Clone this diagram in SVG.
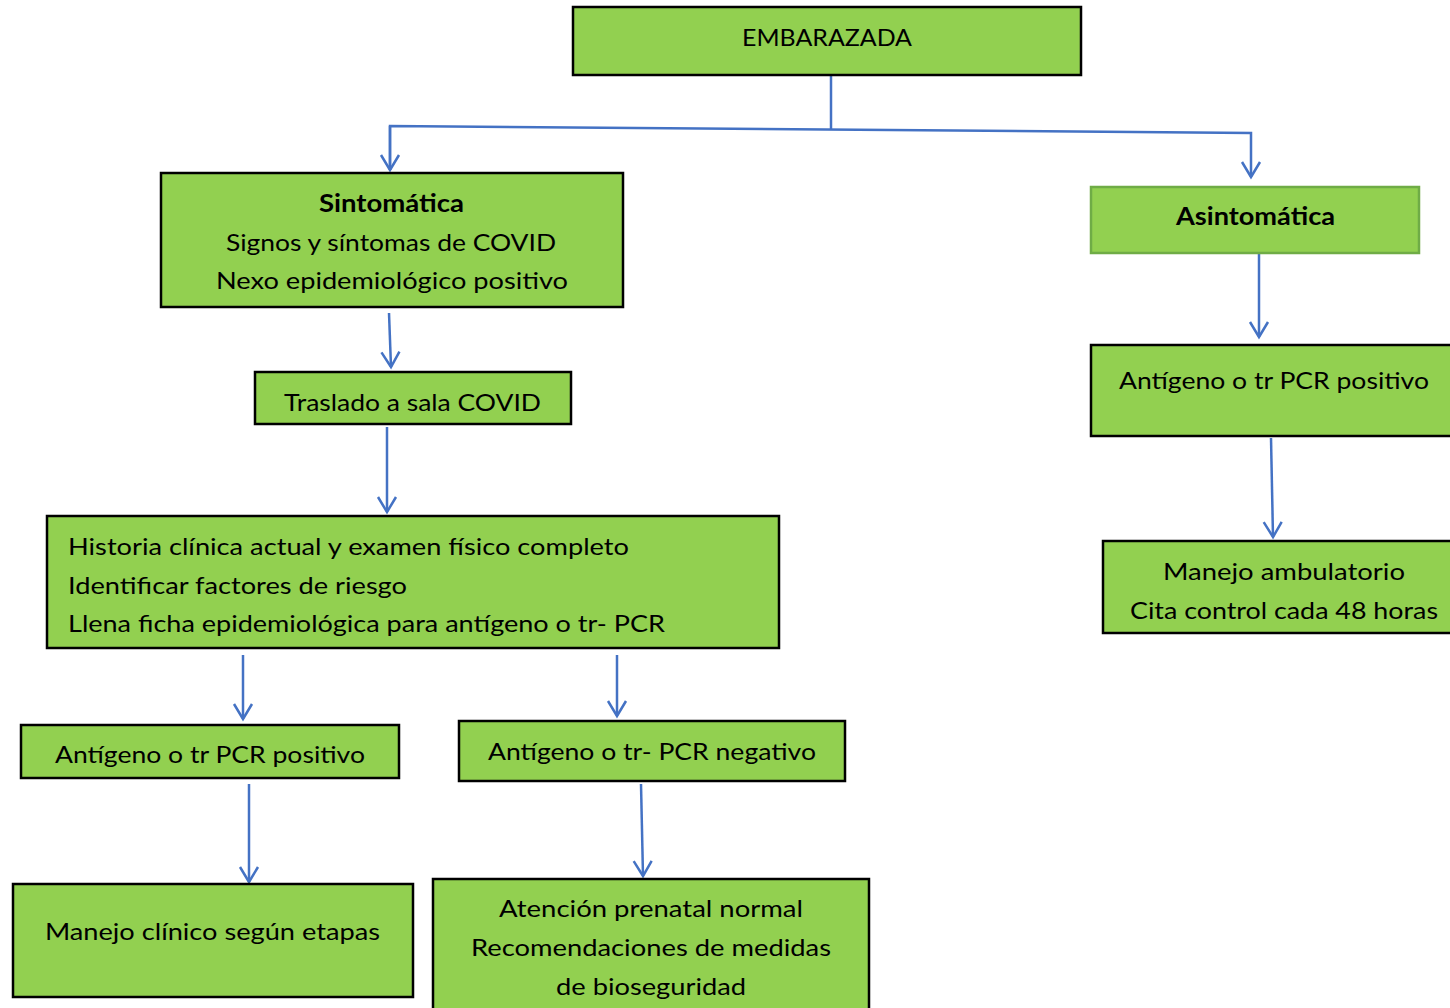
<svg xmlns="http://www.w3.org/2000/svg" width="1450" height="1008" viewBox="0 0 1450 1008">
<style>
.box{fill:#92D050;stroke:#000;stroke-width:2.5}
.gbox{fill:#92D050;stroke:#6FAC46;stroke-width:2.5}
.t{font-family:Lato,"Open Sans","Liberation Sans",sans-serif;font-size:24px;fill:#000}
.c{text-anchor:middle}
.b{font-weight:bold}
.conn{fill:none;stroke:#4472C4;stroke-width:2.5}
</style>
<defs>
<marker id="ah" markerUnits="userSpaceOnUse" markerWidth="40" markerHeight="40" refX="20" refY="20" orient="auto" viewBox="0 0 40 40">
<path d="M5,11 L20,20 L5,29" fill="none" stroke="#4472C4" stroke-width="2.5"/>
</marker>
</defs>
<rect width="1450" height="1008" fill="#fff"/>
<g id="connectors">
<path class="conn" d="M831,75 L831,129"/>
<path class="conn" d="M390,170 L390,126 L1251,133 L1251,177" marker-end="url(#ah)"/>
<path class="conn" d="M390,126 L390,170" marker-end="url(#ah)"/>
<path class="conn" d="M389,313 L391,367" marker-end="url(#ah)"/>
<path class="conn" d="M387,427 L387,512" marker-end="url(#ah)"/>
<path class="conn" d="M243,655 L243,719" marker-end="url(#ah)"/>
<path class="conn" d="M617,655 L617,716" marker-end="url(#ah)"/>
<path class="conn" d="M249,784 L249,882" marker-end="url(#ah)"/>
<path class="conn" d="M641,784 L643,876" marker-end="url(#ah)"/>
<path class="conn" d="M1259,254 L1259,337" marker-end="url(#ah)"/>
<path class="conn" d="M1271,438 L1273,537" marker-end="url(#ah)"/>
</g>
<g id="embarazada">
<rect class="box" x="573" y="7" width="508" height="68"/>
<text class="t" x="742" y="46" textLength="170" lengthAdjust="spacingAndGlyphs">EMBARAZADA</text>
</g>
<g id="sintomatica">
<rect class="box" x="161" y="173" width="462" height="134"/>
<text class="t b" x="319" y="212" textLength="145" lengthAdjust="spacingAndGlyphs">Sintomática</text>
<text class="t" x="226" y="251" textLength="330" lengthAdjust="spacingAndGlyphs">Signos y síntomas de COVID</text>
<text class="t" x="216" y="289" textLength="352" lengthAdjust="spacingAndGlyphs">Nexo epidemiológico positivo</text>
</g>
<g id="traslado">
<rect class="box" x="255" y="372" width="316" height="52"/>
<text class="t" x="284" y="411" textLength="257" lengthAdjust="spacingAndGlyphs">Traslado a sala COVID</text>
</g>
<g id="historia">
<rect class="box" x="47" y="516" width="732" height="132"/>
<text class="t" x="68" y="555" textLength="561" lengthAdjust="spacingAndGlyphs">Historia clínica actual y examen físico completo</text>
<text class="t" x="68" y="594" textLength="339" lengthAdjust="spacingAndGlyphs">Identificar factores de riesgo</text>
<text class="t" x="68" y="632" textLength="597" lengthAdjust="spacingAndGlyphs">Llena ficha epidemiológica para antígeno o tr- PCR</text>
</g>
<g id="positivo-izq">
<rect class="box" x="21" y="725" width="378" height="53"/>
<text class="t" x="55" y="763" textLength="310" lengthAdjust="spacingAndGlyphs">Antígeno o tr PCR positivo</text>
</g>
<g id="negativo">
<rect class="box" x="459" y="721" width="386" height="60"/>
<text class="t" x="488" y="760" textLength="328" lengthAdjust="spacingAndGlyphs">Antígeno o tr- PCR negativo</text>
</g>
<g id="manejo-clinico">
<rect class="box" x="13" y="884" width="400" height="113"/>
<text class="t" x="45" y="940" textLength="335" lengthAdjust="spacingAndGlyphs">Manejo clínico según etapas</text>
</g>
<g id="atencion">
<rect class="box" x="433" y="879" width="436" height="140"/>
<text class="t" x="499" y="917" textLength="304" lengthAdjust="spacingAndGlyphs">Atención prenatal normal</text>
<text class="t" x="471" y="956" textLength="360" lengthAdjust="spacingAndGlyphs">Recomendaciones de medidas</text>
<text class="t" x="556" y="995" textLength="190" lengthAdjust="spacingAndGlyphs">de bioseguridad</text>
</g>
<g id="asintomatica">
<rect class="gbox" x="1091" y="187" width="328" height="66"/>
<text class="t b" x="1176" y="225" textLength="159" lengthAdjust="spacingAndGlyphs">Asintomática</text>
</g>
<g id="positivo-der">
<rect class="box" x="1091" y="345" width="370" height="91"/>
<text class="t" x="1119" y="389" textLength="310" lengthAdjust="spacingAndGlyphs">Antígeno o tr PCR positivo</text>
</g>
<g id="manejo-ambulatorio">
<rect class="box" x="1103" y="541" width="360" height="92"/>
<text class="t" x="1163" y="580" textLength="242" lengthAdjust="spacingAndGlyphs">Manejo ambulatorio</text>
<text class="t" x="1130" y="619" textLength="308" lengthAdjust="spacingAndGlyphs">Cita control cada 48 horas</text>
</g>
</svg>
